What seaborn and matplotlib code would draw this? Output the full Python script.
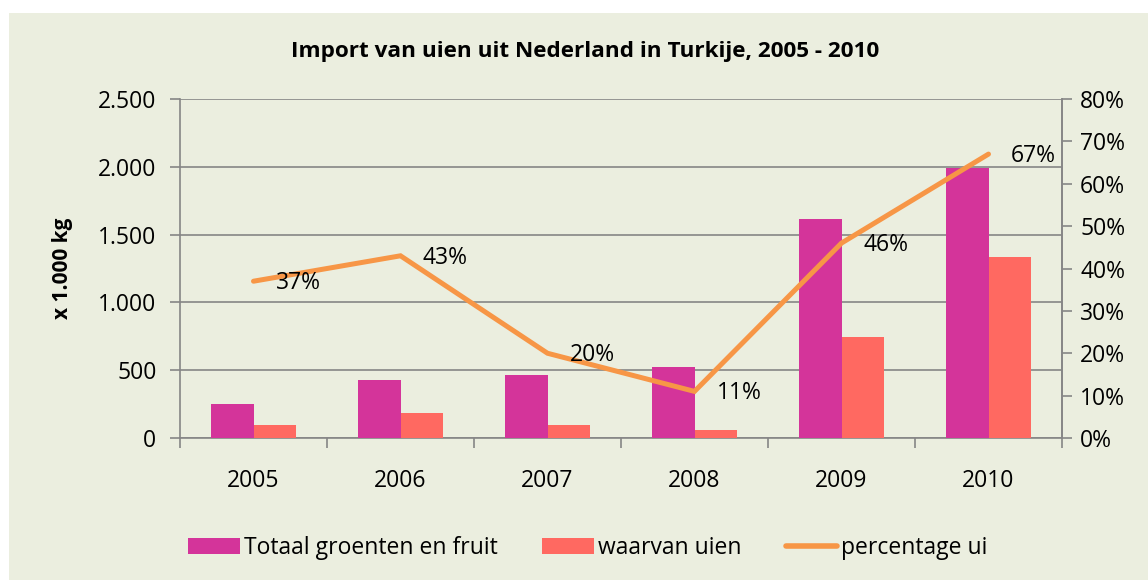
import matplotlib
matplotlib.use("Agg")
import matplotlib.pyplot as plt
import seaborn as sns
import numpy as np
import pandas as pd
from matplotlib.patches import Rectangle, Patch
from matplotlib.lines import Line2D
from matplotlib.ticker import FuncFormatter, FixedLocator

years = ["2005", "2006", "2007", "2008", "2009", "2010"]
totaal = [250, 428, 465, 524, 1615, 1991]
uien = [96, 185, 95, 60, 745, 1335]
percentage = [0.37, 0.43, 0.20, 0.11, 0.46, 0.67]
pct_labels = ["37%", "43%", "20%", "11%", "46%", "67%"]
series_names = ["Totaal groenten en fruit", "waarvan uien", "percentage ui"]
title = "Import van uien uit Nederland in Turkije, 2005 - 2010"
ylabel = "x 1.000 kg"

BG = "#EBEEDF"
C_TOT = "#D4349A"
C_UI = "#FF6961"
C_LINE = "#F79646"
GRID = "#868686"
FS = 16.5

sns.set_theme(style="white")
plt.rcParams["font.family"] = ["Open Sans", "DejaVu Sans"]

df = pd.DataFrame({
    "jaar": years * 2,
    "waarde": totaal + uien,
    "serie": [series_names[0]] * len(years) + [series_names[1]] * len(years),
})

fig = plt.figure(figsize=(11.48, 5.80), dpi=100)
fig.patch.set_facecolor("white")
bg = Rectangle((9 / 1148, 0), 1 - 9 / 1148, 1 - 13 / 580,
               transform=fig.transFigure, facecolor=BG, edgecolor="none", zorder=-10)
fig.add_artist(bg)

ax = fig.add_axes([180 / 1148, 1 - 438 / 580, (1062 - 180) / 1148, (438 - 99) / 580])
ax.patch.set_alpha(0)

sns.barplot(data=df, x="jaar", y="waarde", hue="serie", order=years,
            hue_order=series_names[:2], palette=[C_TOT, C_UI],
            width=0.585, gap=0, ax=ax, legend=False, saturation=1,
            linewidth=0, edgecolor="none", zorder=3)

ax.set_xlim(-0.5, len(years) - 0.5)
ax.set_ylim(0, 2500)
ax.set_yticks(np.arange(0, 2501, 500))
ax.yaxis.set_major_formatter(FuncFormatter(lambda v, p: f"{int(v):,}".replace(",", ".")))
ax.yaxis.grid(True, color=GRID, linewidth=1.2, zorder=0)
ax.set_axisbelow(True)
ax.set_xlabel("")
ax.set_ylabel(ylabel, fontsize=15, fontweight="bold", labelpad=18, color="black")

ax.spines["top"].set_visible(False)
for s in ["left", "bottom", "right"]:
    ax.spines[s].set_color(GRID)
    ax.spines[s].set_linewidth(1.2)

ax.tick_params(axis="y", which="major", direction="out", length=7, width=1.2,
               color=GRID, labelsize=FS, pad=10, left=True, labelcolor="black")
ax.tick_params(axis="x", which="major", length=0, labelsize=FS, pad=22, labelcolor="black")
ax.xaxis.set_minor_locator(FixedLocator(np.arange(-0.5, len(years), 1.0)))
ax.tick_params(axis="x", which="minor", direction="out", length=7, width=1.2,
               color=GRID, bottom=True)

ax2 = ax.twinx()
ax2.plot(np.arange(len(years)), percentage, color=C_LINE, linewidth=3.6,
         solid_capstyle="round", solid_joinstyle="miter", zorder=5)
ax2.set_ylim(0, 0.8)
ax2.set_yticks(np.arange(0, 0.81, 0.1))
ax2.yaxis.set_major_formatter(FuncFormatter(lambda v, p: f"{v * 100:.0f}%"))
ax2.tick_params(axis="y", direction="out", length=7, width=1.2, color=GRID,
                labelsize=FS, pad=6, right=True, labelcolor="black")
for s in ["top", "left", "bottom"]:
    ax2.spines[s].set_visible(False)
ax2.spines["right"].set_color(GRID)
ax2.spines["right"].set_linewidth(1.2)
ax2.grid(False)

for i, (v, lab) in enumerate(zip(percentage, pct_labels)):
    ax2.annotate(lab, (i, v), xytext=(16, -1.5), textcoords="offset points",
                 ha="left", va="center", fontsize=FS, color="black", zorder=6)

fig.text(585 / 1148, 1 - 51 / 580, title, ha="center", va="center",
         fontsize=16.2, fontweight="bold", color="black")

handles = [Patch(facecolor=C_TOT, edgecolor="none"),
           Patch(facecolor=C_UI, edgecolor="none"),
           Line2D([0], [0], color=C_LINE, linewidth=4, solid_capstyle="round")]
fig.legend(handles, series_names, loc="center", bbox_to_anchor=(588 / 1148, 1 - 548 / 580),
           ncol=3, frameon=False, fontsize=FS, handlelength=2.25, handletextpad=0.17,
           columnspacing=1.95, handleheight=0.75, labelcolor="black")

fig.savefig("out.png", dpi=100, facecolor=fig.get_facecolor())
